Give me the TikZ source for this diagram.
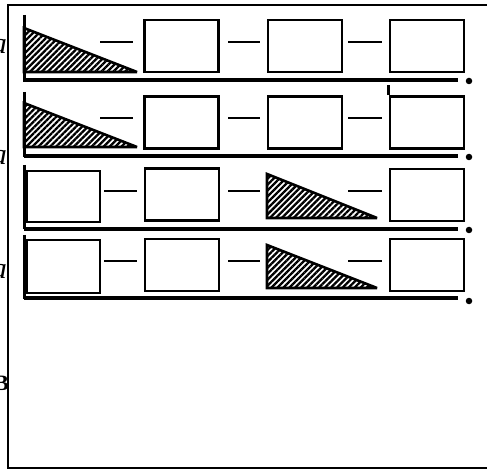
\documentclass[tikz,border=0pt]{standalone}
\usepackage{fontspec}
\setmainfont{Liberation Serif}
\usetikzlibrary{patterns.meta}
\begin{document}
\begin{tikzpicture}[x=1pt,y=-1pt,
  box/.style={draw,line width=2.8pt,inner sep=0pt,minimum width=74pt,minimum height=52pt},
  ln/.style={line width=2.8pt},
  base/.style={line width=3.4pt},
  wall/.style={line width=3pt},
  hatch/.style={draw,line width=2.6pt,line join=miter,miter limit=3,pattern={Lines[angle=45,distance=4.2pt,line width=2.3pt]}},
  enddot/.style={circle,fill,inner sep=0pt,minimum size=6.5pt},
  frag/.style={inner sep=0pt,anchor=east,font=\itshape\fontsize{30}{30}\selectfont}]
\useasboundingbox (0,0) rectangle (487,470);
% frame (open on the right)
\draw[line width=2.6pt] (487,5) -- (8,5) -- (8,468) -- (487,468);
% cut-off letters at the left edge
\begin{scope}
\clip (0,0) rectangle (7,470);
\node[frag] (l1) at (7,47) {a};
\node[frag] (l2) at (7,158) {a};
\node[frag] (l3) at (7,272) {a};
\node[frag,font=\bfseries\fontsize{22}{22}\selectfont] (l4) at (9,383) {B};
\end{scope}
% ---------- row 1 ----------
\draw[wall] (24,15) -- (24,82);
\draw[hatch] (24,28) -- (24,72) -- (137,72) -- cycle;
\draw[ln] (100,42) -- (133,42);
\node[box] (b11) at (181.5,46) {};
\draw[ln] (228,42) -- (260,42);
\node[box] (b12) at (305,46) {};
\draw[ln] (348,42) -- (382,42);
\node[box] (b13) at (427,46) {};
\coordinate (s1) at (24,80);
\node[enddot] (d1) at (469,81) {};
\draw[base] (s1) -- (458,80);
% ---------- row 2 ----------
\draw[wall] (24,92) -- (24,157);
\draw[hatch] (24,103) -- (24,147) -- (137,147) -- cycle;
\draw[ln] (100,118) -- (133,118);
\node[box] (b21) at (181.5,122.5) {};
\draw[ln] (228,118) -- (260,118);
\node[box] (b22) at (305,122.5) {};
\draw[ln] (348,118) -- (382,118);
\node[box] (b23) at (427,122.5) {};
\draw[ln] (b23.north west) -- ++(0,-10);
\coordinate (s2) at (24,156);
\node[enddot] (d2) at (469,157) {};
\draw[base] (s2) -- (458,156);
% ---------- row 3 ----------
\draw[wall] (24,165) -- (24,229);
\node[box,minimum width=73pt,minimum height=51pt] (b31) at (63.5,196.5) {};
\draw[ln] (104,191) -- (137,191);
\node[box] (b32) at (182,194.5) {};
\draw[ln] (228,191) -- (260,191);
\draw[hatch] (267,174) -- (267,218) -- (377,218) -- cycle;
\draw[ln] (348,191) -- (382,191);
\node[box] (b33) at (427,195) {};
\coordinate (s3) at (24,229);
\node[enddot] (d3) at (469,230) {};
\draw[base] (s3) -- (458,229);
% ---------- row 4 ----------
\draw[wall] (24,235) -- (24,299);
\node[box,minimum width=73pt,minimum height=53pt] (b41) at (63.5,266.5) {};
\draw[ln] (104,261) -- (137,261);
\node[box] (b42) at (182,265) {};
\draw[ln] (228,261) -- (260,261);
\draw[hatch] (267,245) -- (267,288) -- (377,288) -- cycle;
\draw[ln] (348,261) -- (382,261);
\node[box] (b43) at (427,265) {};
\coordinate (s4) at (24,298);
\node[enddot] (d4) at (469,301) {};
\draw[base] (s4) -- (458,298);
\end{tikzpicture}
\end{document}
